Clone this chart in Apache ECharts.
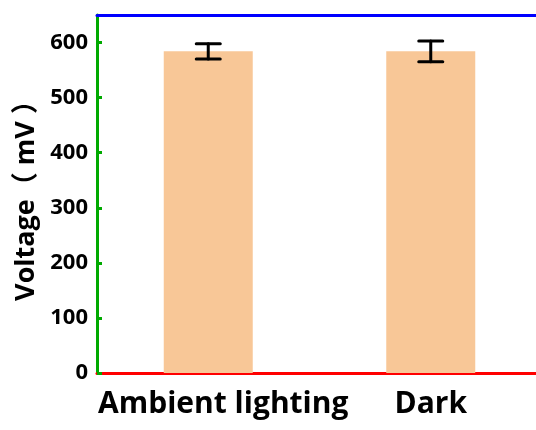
<!DOCTYPE html>
<html><head><meta charset="utf-8">
<script src="https://cdn.jsdelivr.net/npm/echarts@6/dist/echarts.min.js"></script>
<style>html,body{margin:0;padding:0;background:#fff;overflow:hidden}#c{width:536px;height:430px;overflow:hidden}</style>
</head><body><div id="c"></div>
<script>
var categories = ['Ambient lighting', 'Dark'];
var voltage = [584, 584];
var errors = [14, 19];
var yTicks = [0, 100, 200, 300, 400, 500, 600];

var chart = echarts.init(document.getElementById('c'));
var errData = categories.map(function (c, i) { return [i, voltage[i], errors[i]]; });
var font = '"Open Sans", "Noto Sans CJK SC", sans-serif';
chart.setOption({
  animation: false,
  grid: { left: 97, width: 445, top: 15, bottom: 57, show: false, outerBoundsMode: 'none', containLabel: false },
  xAxis: [{
    type: 'category',
    data: [{ value: categories[0], textStyle: { padding: [0, 0, 0, 30] } }, { value: categories[1] }],
    axisLine: { lineStyle: { color: '#f00', width: 3 } },
    axisTick: { show: false },
    splitLine: { show: false },
    axisLabel: { color: '#000', fontSize: 30, fontWeight: 'bold', fontFamily: font, margin: 16, interval: 0, hideOverlap: false }
  }, {
    type: 'category', position: 'top', data: categories,
    axisLine: { show: true, lineStyle: { color: '#00f', width: 3 } },
    axisTick: { show: false }, axisLabel: { show: false }, splitLine: { show: false }
  }],
  yAxis: {
    type: 'value', min: 0, max: 650, interval: 100,
    name: 'Voltage（ mV ）', nameLocation: 'middle', nameGap: 56,
    nameTextStyle: { color: '#000', fontSize: 27, fontWeight: 'bold', fontFamily: font },
    axisLine: { show: true, lineStyle: { color: '#0a0', width: 3 } },
    axisTick: { show: true, inside: true, length: 5, lineStyle: { color: '#0a0', width: 3 } },
    splitLine: { show: false },
    axisLabel: { color: '#000', fontSize: 22, fontWeight: 'bold', fontFamily: font, margin: 9, showMaxLabel: false,
      formatter: function (v) { return yTicks.indexOf(v) >= 0 ? String(v) : ''; } }
  },
  series: [
    { type: 'bar', data: voltage, barWidth: '40%', itemStyle: { color: '#F8C797' } },
    { type: 'custom', data: errData, z: 10,
      renderItem: function (params, api) {
        var x = api.value(0), y = api.value(1), e = api.value(2);
        var t = api.coord([x, y + e]), b = api.coord([x, y - e]);
        var hw = 12;
        var st = { stroke: '#000', lineWidth: 3, lineCap: 'round' };
        return { type: 'group', children: [
          { type: 'line', shape: { x1: t[0], y1: t[1], x2: b[0], y2: b[1] }, style: st },
          { type: 'line', shape: { x1: t[0] - hw, y1: t[1], x2: t[0] + hw, y2: t[1] }, style: st },
          { type: 'line', shape: { x1: b[0] - hw, y1: b[1], x2: b[0] + hw, y2: b[1] }, style: st }
        ] };
      }
    }
  ]
});
</script></body></html>
